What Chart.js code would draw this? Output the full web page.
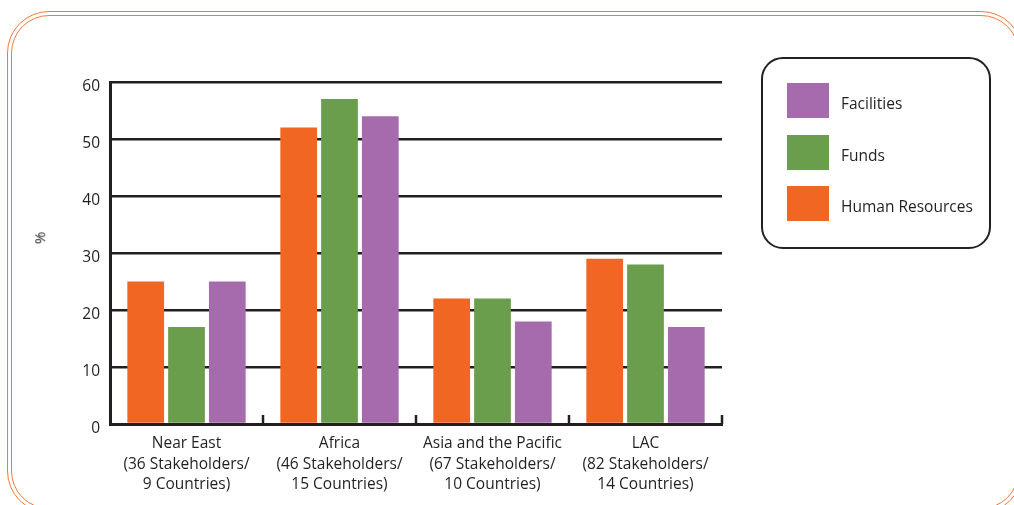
<!DOCTYPE html>
<html>
<head>
<meta charset="utf-8">
<script src="https://cdn.jsdelivr.net/npm/chart.js@4/dist/chart.umd.min.js"></script>
<style>
  html, body { margin: 0; padding: 0; background: #fff; }
  body { width: 1014px; height: 505px; position: relative; overflow: hidden; font-family: "Open Sans", "Noto Sans", sans-serif; }
  #wrap { position: absolute; left: 0; top: 0; width: 1014px; height: 505px; }
  .frame { position: absolute; border: 1.6px solid #f47a38; box-sizing: border-box; }
  #f1 { left: 7px; top: 11px; width: 1016px; height: 502px; border-radius: 42px; }
  #f2 { left: 11px; top: 15px; width: 1008px; height: 494px; border-radius: 38px; }
  #legend { position: absolute; left: 761px; top: 57px; width: 230px; height: 192px; box-sizing: border-box;
            border: 2.5px solid #231f20; border-radius: 22px; }
  .item { position: absolute; left: 24px; height: 35px; display: flex; align-items: center; }
  .sw { width: 42px; height: 35px; margin-right: 12px; }
  .lab { font-size: 15.5px; color: #231f20; padding-top: 5px; }
  #ytitle { position: absolute; left: 33px; top: 228px; font-size: 15px; color: #231f20; transform: rotate(-90deg); transform-origin: center; }
</style>
</head>
<body>
<div class="frame" id="f1"></div>
<div class="frame" id="f2"></div>
<div id="wrap"><canvas id="c" width="1014" height="505"></canvas></div>
<div id="ytitle">%</div>
<div id="legend"></div>
<script>
const categories = [
  ["Near East", "(36 Stakeholders/", "9 Countries)"],
  ["Africa", "(46 Stakeholders/", "15 Countries)"],
  ["Asia and the Pacific", "(67 Stakeholders/", "10 Countries)"],
  ["LAC", "(82 Stakeholders/", "14 Countries)"]
];
const seriesNames = ["Human Resources", "Funds", "Facilities"];
const humanResources = [25, 52, 22, 29];
const funds = [17, 57, 22, 28];
const facilities = [25, 54, 18, 17];
const yTicks = [0, 10, 20, 30, 40, 50, 60];
const colors = ["#f26623", "#6a9d4c", "#a66bad"];

const ink = "#231f20";
const font = { family: "'Open Sans', 'Noto Sans', sans-serif", size: 15.5, lineHeight: 1.3 };

const values = [humanResources, funds, facilities];
const datasets = seriesNames.map((n, i) => ({
  label: n,
  data: values[i],
  backgroundColor: colors[i],
  borderWidth: 0,
  categoryPercentage: 0.8,
  barPercentage: 0.9
}));

// legend (reverse order like reference)
const lg = document.getElementById('legend');
const tops = [24, 76, 127];
[2, 1, 0].forEach((di, k) => {
  const it = document.createElement('div');
  it.className = 'item';
  it.style.top = tops[k] + 'px';
  it.innerHTML = '<div class="sw" style="background:' + colors[di] + '"></div><span class="lab">' + seriesNames[di] + '</span>';
  lg.appendChild(it);
});

const boundaryTicks = {
  id: 'boundaryTicks',
  afterDatasetsDraw(chart) {
    const x = chart.scales.x, y = chart.scales.y;
    const ctx = chart.ctx;
    const y0 = y.getPixelForValue(0);
    ctx.save();
    ctx.strokeStyle = ink;
    ctx.lineWidth = 2.5;
    for (let i = 0; i < categories.length; i++) {
      const px = x.getPixelForValue(i + 0.5);
      ctx.beginPath();
      ctx.moveTo(px, y0);
      ctx.lineTo(px, y0 - 9);
      ctx.stroke();
    }
    ctx.restore();
  }
};

new Chart(document.getElementById('c'), {
  type: 'bar',
  data: { labels: categories, datasets },
  options: {
    responsive: false,
    animation: false,
    devicePixelRatio: 1,
    layout: { padding: { top: 82, right: 292, left: 0, bottom: 0 } },
    plugins: { legend: { display: false }, tooltip: { enabled: false } },
    scales: {
      x: {
        grid: { display: false },
        border: { display: true, width: 3, color: ink },
        ticks: { font, color: ink, padding: 2, maxRotation: 0, autoSkip: false },
        afterFit(s) { s.height = 81; }
      },
      y: {
        min: yTicks[0], max: yTicks[yTicks.length - 1],
        afterBuildTicks(s) { s.ticks = yTicks.map(v => ({ value: v })); },
        grid: { color: ink, lineWidth: 2.5, drawTicks: false },
        border: { display: true, width: 3, color: ink },
        ticks: { font: { ...font, lineHeight: 1.2 }, color: ink, padding: 10, labelOffset: 5 },
        afterFit(s) { s.width = 110; }
      }
    }
  },
  plugins: [boundaryTicks]
});
</script>
</body>
</html>
